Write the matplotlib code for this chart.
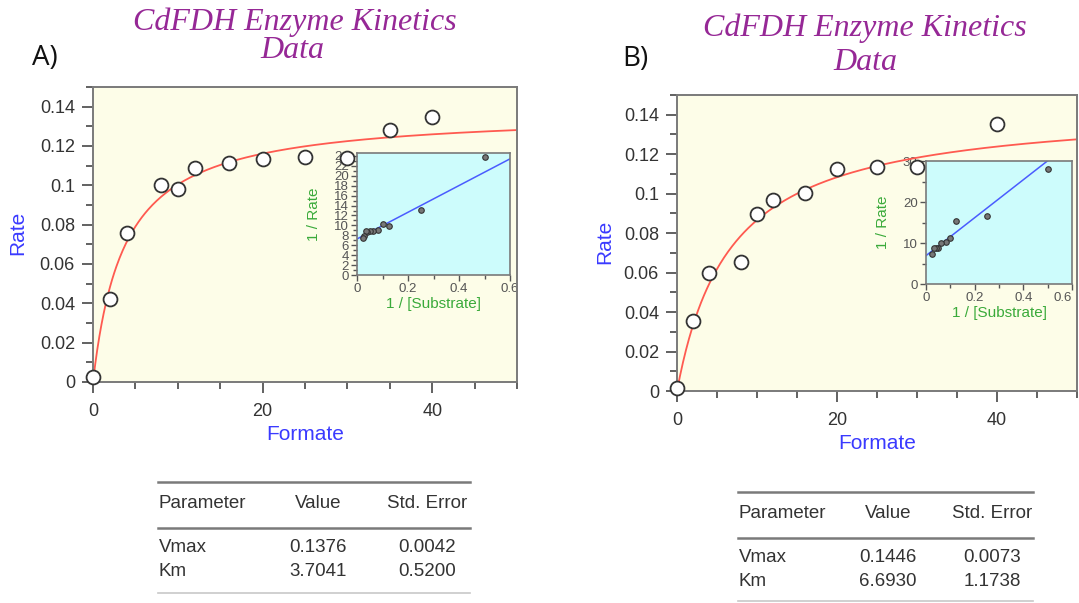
import numpy as np
import matplotlib
matplotlib.use("Agg")
import matplotlib.pyplot as plt
from matplotlib.ticker import MultipleLocator, FuncFormatter
from matplotlib.lines import Line2D

plt.rcParams["font.family"] = ["Liberation Sans", "DejaVu Sans"]

# ---- data ----
formate_a = [0, 2, 4, 8, 10, 12, 16, 20, 25, 30, 35, 40]
rate_a = [0.0025, 0.042, 0.076, 0.1003, 0.098, 0.109, 0.1115, 0.1132, 0.1145, 0.1137, 0.128, 0.135]

formate_b = [0, 2, 4, 8, 10, 12, 16, 20, 25, 30, 40]
rate_b = [0.0017, 0.0357, 0.0600, 0.0655, 0.0897, 0.0967, 0.1002, 0.1127, 0.1136, 0.1134, 0.1354]

params = ["Vmax", "Km"]
fit_a = [0.1376, 3.7041]
err_a = [0.0042, 0.5200]
fit_b = [0.1446, 6.6930]
err_b = [0.0073, 1.1738]

title_lines = ["CdFDH Enzyme Kinetics", "Data"]

W, H = 1079, 603
PURPLE = "#962896"
BLUE = "#3a3aff"
GREEN = "#3aaa3a"
TXT = "#333333"


def box(px_left, px_top, px_right, px_bottom):
    return [px_left / W, 1 - px_bottom / H, (px_right - px_left) / W, (px_bottom - px_top) / H]


def fy(py):
    return 1 - py / H


def style_spines(ax, lw=1.4):
    for s in ax.spines.values():
        s.set_color("#7a7a7a")
        s.set_linewidth(lw)


def panel(fig, main_box, inset_box, x, y, fit, ylim_in, ystep_in, yminor_in,
          letter_xy, title_pos, rate_xy):
    vmax, km = fit
    # cream background below everything, so the main markers can sit over the inset
    bg = fig.add_axes(main_box, zorder=0)
    bg.set_facecolor("#fdfde8")
    bg.set_xticks([])
    bg.set_yticks([])
    for s in bg.spines.values():
        s.set_visible(False)

    ax = fig.add_axes(main_box, zorder=2)
    ax.patch.set_visible(False)
    xs = np.linspace(0, 50, 400)
    ax.plot(xs, vmax * xs / (km + xs), color="#ff5a50", lw=1.3, zorder=2)
    ax.plot(x, y, "o", ms=10, mfc="white", mec="#333333", mew=1.3, zorder=3, clip_on=False)
    ax.set_xlim(0, 50)
    ax.set_ylim(0, 0.15)
    ax.xaxis.set_major_locator(MultipleLocator(20))
    ax.xaxis.set_minor_locator(MultipleLocator(5))
    ax.yaxis.set_major_locator(MultipleLocator(0.02))
    ax.yaxis.set_minor_locator(MultipleLocator(0.01))
    ax.yaxis.set_major_formatter(FuncFormatter(lambda v, p: f"{v:g}" if v < 0.149 else ""))
    ax.tick_params(which="major", direction="out", length=8, width=1.3, color="#555555",
                   labelsize=13, labelcolor=TXT, pad=5)
    ax.tick_params(which="minor", direction="out", length=5, width=1.3, color="#555555")
    ax.tick_params(axis="x", pad=7)
    style_spines(ax)
    ax.set_xlabel("Formate", color=BLUE, fontsize=15, labelpad=4)
    fig.text(rate_xy[0] / W, fy(rate_xy[1]), "Rate", color=BLUE, fontsize=15,
             rotation=90, ha="center", va="center")

    ins = fig.add_axes(inset_box, zorder=1)
    ins.set_facecolor("#cdfcfc")
    inv_x = [1 / v for v in x if v > 0]
    inv_y = [1 / r for v, r in zip(x, y) if v > 0]
    xl = np.linspace(0, 0.6, 50)
    ins.plot(xl, 1 / vmax + km / vmax * xl, color="#4a5cff", lw=1.1)
    ins.plot(inv_x, inv_y, "o", ms=4, mfc="#777777", mec="#333333", mew=0.8)
    ins.set_xlim(0, 0.6)
    ins.set_ylim(*ylim_in)
    ins.xaxis.set_major_locator(MultipleLocator(0.2))
    ins.xaxis.set_minor_locator(MultipleLocator(0.1))
    ins.xaxis.set_major_formatter(FuncFormatter(lambda v, p: f"{v:g}"))
    ins.yaxis.set_major_locator(MultipleLocator(ystep_in))
    ins.yaxis.set_minor_locator(MultipleLocator(yminor_in))
    ins.yaxis.set_major_formatter(FuncFormatter(lambda v, p: f"{v:g}"))
    ins.tick_params(which="major", direction="out", length=4, width=1, color="#555555",
                    labelsize=9.5, labelcolor="#555555", pad=2)
    ins.tick_params(which="minor", direction="out", length=3, width=1, color="#555555")
    style_spines(ins, 1.2)
    ins.set_xlabel("1 / [Substrate]", color=GREEN, fontsize=11, labelpad=1)
    ins.set_ylabel("1 / Rate", color=GREEN, fontsize=11, labelpad=9)

    fig.text(letter_xy[0] / W, fy(letter_xy[1]), letter_xy[2], fontsize=20, color="#111111",
             family=["Open Sans", "DejaVu Sans"], ha="left", va="center")
    for line, (tx, ty) in zip(title_lines, title_pos):
        fig.text(tx / W, fy(ty), line, fontsize=23, color=PURPLE,
                 family=["Liberation Serif", "DejaVu Serif"], style="italic",
                 ha="center", va="center")
    return ins


def table(fig, x_left, x_right, x_val, x_err, y_top, y_head, y_mid, y_rows, y_bot, values, errors):
    fig.add_artist(Line2D([x_left / W, x_right / W], [fy(y_top)] * 2, color="#7a7a7a", lw=1.8))
    fig.add_artist(Line2D([x_left / W, x_right / W], [fy(y_mid)] * 2, color="#7a7a7a", lw=1.8))
    fig.add_artist(Line2D([x_left / W, x_right / W], [fy(y_bot)] * 2, color="#c8c8c8", lw=1.2))
    kw = dict(fontsize=13.5, color=TXT, va="center")
    fig.text((x_left + 1) / W, fy(y_head), "Parameter", ha="left", **kw)
    fig.text(x_val / W, fy(y_head), "Value", ha="center", **kw)
    fig.text(x_err / W, fy(y_head), "Std. Error", ha="center", **kw)
    for name, v, e, yy in zip(params, values, errors, y_rows):
        fig.text((x_left + 1) / W, fy(yy), name, ha="left", **kw)
        fig.text(x_val / W, fy(yy), f"{v:.4f}", ha="center", **kw)
        fig.text(x_err / W, fy(yy), f"{e:.4f}", ha="center", **kw)


fig = plt.figure(figsize=(W / 100, H / 100), dpi=100)

panel(fig, box(93, 87, 517, 382), box(357, 153, 510, 275), formate_a, rate_a, fit_a,
      (0, 24.6), 2, 1, (32, 58, "A)"), [(295, 22), (292, 51)], (18, 233))
ins_b = panel(fig, box(677, 95, 1077, 391), box(926, 161, 1072, 284), formate_b, rate_b, fit_b,
              (0, 30), 10, 5, (622, 59, "B)"), [(865, 28), (865, 62)], (605, 242))

table(fig, 158, 470, 318, 427, 482, 503, 528, (548, 572), 593, fit_a, err_a)
table(fig, 738, 1033, 888, 992, 492, 513, 538, (558, 582), 601, fit_b, err_b)

# the last inset label of B sits at the figure edge; keep it inside
fig.canvas.draw()
for t in ins_b.xaxis.get_major_ticks():
    if abs(t.get_loc() - 0.6) < 1e-6:
        t.label1.set_horizontalalignment("right")
        t.label1.set_x(0.6)

fig.savefig("out.png", dpi=100)
